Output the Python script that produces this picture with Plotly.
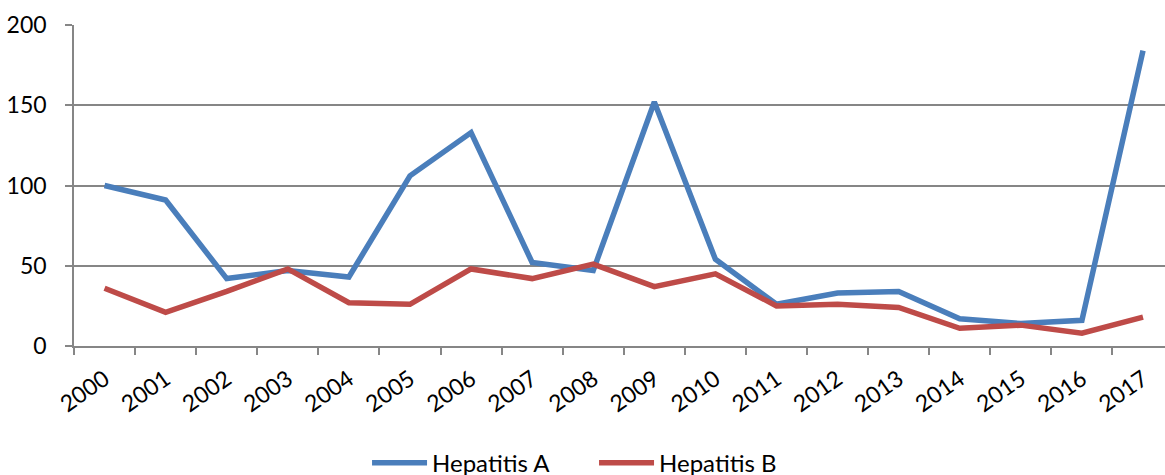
import plotly.graph_objects as go

years = [str(y) for y in range(2000, 2018)]
hepatitis_a = [100, 91, 42, 47, 43, 106, 133, 52, 47, 152, 54, 26, 33, 34, 17, 14, 16, 184]
hepatitis_b = [36, 21, 34, 48, 27, 26, 48, 42, 51, 37, 45, 25, 26, 24, 11, 13, 8, 18]
y_ticks = [0, 50, 100, 150, 200]

BLUE = "#4A7EBB"
RED = "#BE4B48"
GRID = "#868686"
FONT = "Lato"

fig = go.Figure()
fig.add_trace(go.Scatter(x=years, y=hepatitis_a, mode="lines", name="Hepatitis A",
                         line=dict(color=BLUE, width=5.5)))
fig.add_trace(go.Scatter(x=years, y=hepatitis_b, mode="lines", name="Hepatitis B",
                         line=dict(color=RED, width=5.5)))

fig.update_layout(
    width=1165, height=475,
    margin=dict(l=74, r=0, t=25, b=129, autoexpand=False),
    plot_bgcolor="white", paper_bgcolor="white",
    font=dict(family=FONT, color="black"),
    showlegend=True,
    legend=dict(orientation="h", x=0.2686, xanchor="left", y=-0.365, yanchor="middle",
                font=dict(family=FONT, size=24), itemwidth=55,
                entrywidth=157, entrywidthmode="pixels",
                bgcolor="rgba(0,0,0,0)"),
    xaxis=dict(
        type="category", range=[-0.5, 17.36], tickson="boundaries",
        showgrid=False, showline=True, linecolor=GRID, linewidth=1.5,
        ticks="outside", ticklen=7, tickcolor=GRID, tickwidth=1.5,
        tickangle=-35, ticklabelstandoff=9,
        tickfont=dict(family=FONT, size=23), fixedrange=True,
    ),
    yaxis=dict(
        range=[0, 200], tickvals=y_ticks, showgrid=True, gridcolor=GRID, gridwidth=1.5,
        showline=True, linecolor=GRID, linewidth=1.5, zeroline=False,
        ticks="outside", ticklen=7, tickcolor=GRID, tickwidth=1.5,
        ticklabelstandoff=14, tickfont=dict(family=FONT, size=23), fixedrange=True,
    ),
)

fig.write_html("out.html")
